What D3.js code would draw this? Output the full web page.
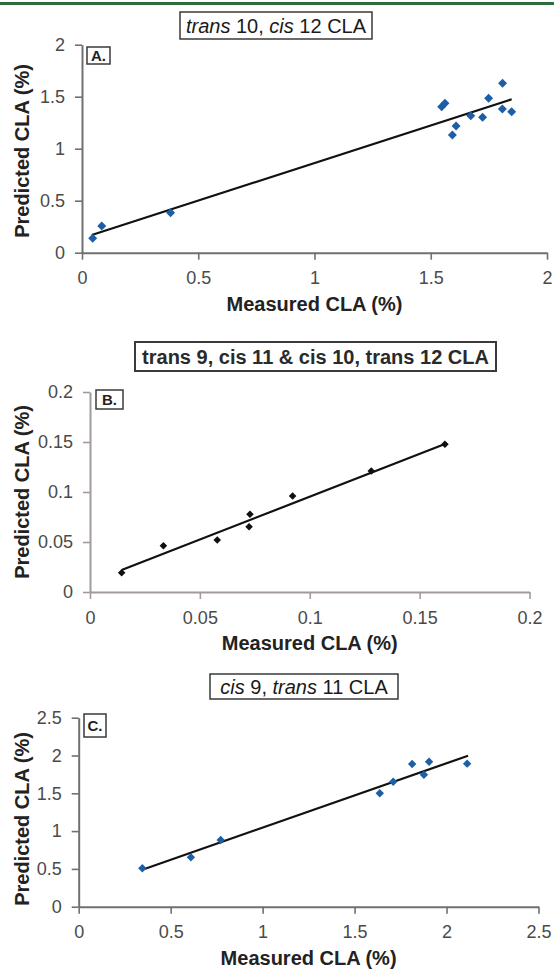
<!DOCTYPE html>
<html>
<head>
<meta charset="utf-8">
<script src="https://cdn.jsdelivr.net/npm/d3@7"></script>
<style>
  body { margin: 0; background: #fff; }
  svg { display: block; }
  text { font-family: "Liberation Sans", Arial, sans-serif; }
</style>
</head>
<body>
<div id="chart"></div>
<script>
// panel A - trans 10, cis 12 CLA
const aMeasured  = [0.046, 0.085, 0.381, 1.547, 1.561, 1.593, 1.609, 1.672, 1.723, 1.749, 1.809, 1.808, 1.848]
const aPredicted = [0.138, 0.257, 0.385, 1.404, 1.437, 1.132, 1.218, 1.317, 1.302, 1.485, 1.629, 1.382, 1.356]
const aFitX = [0.042, 1.848]
const aFitY = [0.17, 1.475]
const aTicks = [0, 0.5, 1, 1.5, 2]
const aTitle = [["trans", true], [" 10, ", false], ["cis", true], [" 12 CLA", false]]

// panel B - trans 9, cis 11 & cis 10, trans 12 CLA
const bMeasured  = [0.0144, 0.0334, 0.0579, 0.0724, 0.0728, 0.0922, 0.128, 0.1615]
const bPredicted = [0.0193, 0.0463, 0.052, 0.0653, 0.0777, 0.096, 0.121, 0.1477]
const bFitX = [0.0144, 0.1615]
const bFitY = [0.022, 0.148]
const bTicks = [0, 0.05, 0.1, 0.15, 0.2]
const bTitle = [["trans 9, cis 11 & cis 10, trans 12 CLA", false]]

// panel C - cis 9, trans 11 CLA
const cMeasured  = [0.346, 0.610, 0.772, 1.637, 1.710, 1.813, 1.877, 1.905, 2.112]
const cPredicted = [0.508, 0.653, 0.882, 1.500, 1.653, 1.888, 1.746, 1.918, 1.892]
const cFitX = [0.342, 2.117]
const cFitY = [0.486, 1.997]
const cTicks = [0, 0.5, 1, 1.5, 2, 2.5]
const cTitle = [["cis", true], [" 9, ", false], ["trans", true], [" 11 CLA", false]]

const xLabel = "Measured CLA (%)"
const yLabel = "Predicted CLA (%)"

const svg = d3.select("#chart").append("svg")
  .attr("width", 554)
  .attr("height", 975)

// green rule at the top of the page
svg.append("rect")
  .attr("x", 0).attr("y", 2)
  .attr("width", 554).attr("height", 3)
  .attr("fill", "#2f6e3c")

const panels = [
  { label: "A.", measured: aMeasured, predicted: aPredicted, fitX: aFitX, fitY: aFitY,
    ticks: aTicks, title: aTitle, titleBold: false,
    left: 82, right: 547, top: 44.7, bottom: 252.7, yTitleMid: 151,
    titleBox: [180, 12, 192, 27], labelBox: [87, 47, 23, 17],
    marker: "#1d5fa6", r: 4.5, axisColor: "#707070" },
  { label: "B.", measured: bMeasured, predicted: bPredicted, fitX: bFitX, fitY: bFitY,
    ticks: bTicks, title: bTitle, titleBold: true,
    left: 90, right: 529.5, top: 392, bottom: 592, yTitleMid: 492,
    titleBox: [135, 342, 361, 29], labelBox: [96, 390, 27, 19],
    marker: "#111", r: 3.8, axisColor: "#a39a9a" },
  { label: "C.", measured: cMeasured, predicted: cPredicted, fitX: cFitX, fitY: cFitY,
    ticks: cTicks, title: cTitle, titleBold: false,
    left: 78.7, right: 538.5, top: 717.7, bottom: 906.7, yTitleMid: 819,
    titleBox: [210, 674, 188, 25], labelBox: [84, 714, 22, 23],
    marker: "#1d5fa6", r: 4.2, axisColor: "#707070" }
]

const diamond = r => `M0,${-r}L${r},0L0,${r}L${-r},0Z`

panels.forEach(p => {
  const ticks = p.ticks
  const x = d3.scaleLinear()
    .domain([ticks[0], ticks[ticks.length - 1]])
    .range([p.left, p.right])
  const y = d3.scaleLinear()
    .domain([ticks[0], ticks[ticks.length - 1]])
    .range([p.bottom, p.top])

  const g = svg.append("g")

  // axes
  const xAxis = g.append("g")
    .attr("transform", `translate(0,${p.bottom})`)
    .call(d3.axisBottom(x).tickValues(ticks).tickFormat(d => String(d))
      .tickSize(7).tickSizeOuter(0).tickPadding(12))
  const yAxis = g.append("g")
    .attr("transform", `translate(${p.left},0)`)
    .call(d3.axisLeft(y).tickValues(ticks).tickFormat(d => String(d))
      .tickSize(7).tickSizeOuter(0).tickPadding(10))
  ;[xAxis, yAxis].forEach(a => {
    a.select(".domain").attr("stroke", p.axisColor).attr("stroke-width", 2)
    a.selectAll(".tick line").attr("stroke", p.axisColor).attr("stroke-width", 1.6)
    a.selectAll(".tick text")
      .attr("fill", "#4a4a4a")
      .style("font-size", "18px")
      .style("font-family", "'Liberation Sans', Arial, sans-serif")
  })

  // fitted line
  const line = d3.line().x(d => x(d[0])).y(d => y(d[1]))
  g.append("path")
    .datum(d3.zip(p.fitX, p.fitY))
    .attr("d", line)
    .attr("fill", "none")
    .attr("stroke", "#111")
    .attr("stroke-width", 2.2)

  // points
  g.selectAll(".pt")
    .data(d3.zip(p.measured, p.predicted))
    .join("path")
    .attr("class", "pt")
    .attr("transform", d => `translate(${x(d[0])},${y(d[1])})`)
    .attr("d", diamond(p.r))
    .attr("fill", p.marker)

  // title box
  const tb = p.titleBox
  g.append("rect")
    .attr("x", tb[0]).attr("y", tb[1])
    .attr("width", tb[2]).attr("height", tb[3])
    .attr("fill", "#fff")
    .attr("stroke", "#3a3a3a")
    .attr("stroke-width", p.titleBold ? 2 : 1.5)
  const t = g.append("text")
    .attr("x", tb[0] + tb[2] / 2)
    .attr("y", tb[1] + tb[3] / 2 + 7)
    .attr("text-anchor", "middle")
    .style("font-size", "20px")
    .style("font-weight", p.titleBold ? "bold" : "normal")
    .attr("fill", p.titleBold ? "#2a2a2a" : "#1a1a1a")
  t.selectAll("tspan")
    .data(p.title)
    .join("tspan")
    .style("font-style", d => d[1] ? "italic" : "normal")
    .text(d => d[0])

  // panel letter box
  const lb = p.labelBox
  g.append("rect")
    .attr("x", lb[0]).attr("y", lb[1])
    .attr("width", lb[2]).attr("height", lb[3])
    .attr("fill", "#fff")
    .attr("stroke", "#3a3a3a")
    .attr("stroke-width", 1.5)
  g.append("text")
    .attr("x", lb[0] + lb[2] / 2)
    .attr("y", lb[1] + lb[3] / 2 + 5.5)
    .attr("text-anchor", "middle")
    .style("font-size", "15px")
    .style("font-weight", "bold")
    .attr("fill", "#222")
    .text(p.label)

  // axis titles
  g.append("text")
    .attr("x", (p.left + p.right) / 2)
    .attr("y", p.bottom + 58)
    .attr("text-anchor", "middle")
    .style("font-size", "20px")
    .style("font-weight", "bold")
    .attr("fill", "#222")
    .text(xLabel)
  g.append("text")
    .attr("transform", `translate(29,${p.yTitleMid}) rotate(-90)`)
    .attr("text-anchor", "middle")
    .style("font-size", "20px")
    .style("font-weight", "bold")
    .attr("fill", "#222")
    .text(yLabel)
})
</script>
</body>
</html>
